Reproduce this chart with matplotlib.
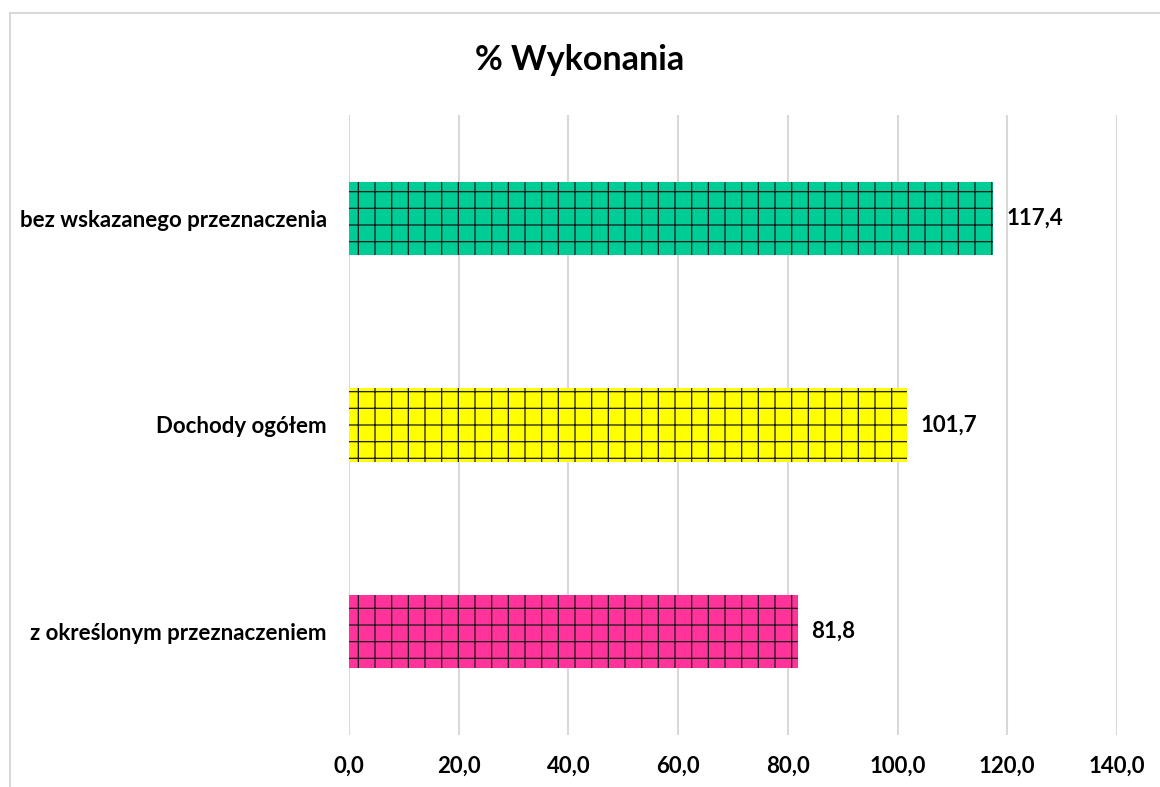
import matplotlib.pyplot as plt
from matplotlib.patches import Rectangle

plt.rcParams['font.family'] = ['Lato', 'DejaVu Sans']
plt.rcParams['hatch.linewidth'] = 0.9

categories = ['z określonym przeznaczeniem', 'Dochody ogółem', 'bez wskazanego przeznaczenia']
values = [81.8, 101.7, 117.4]
colors = ['#FF3399', '#FFFF00', '#00CC96']
xticks = [0, 20, 40, 60, 80, 100, 120, 140]

fig = plt.figure(figsize=(11.6, 7.87), dpi=100)
ax = fig.add_axes([0.3009, 0.0661, 0.662, 0.7878])

# chart border (cropped on right/bottom like the source)
fig.patches.append(Rectangle((10 / 1160, -0.1), 1.5, 1 - 13 / 787 + 0.1,
                             transform=fig.transFigure, fill=False,
                             edgecolor='#d9d9d9', linewidth=1.5, zorder=0))

bars = ax.barh(range(len(categories)), values, height=0.355, color=colors,
               edgecolor='#1a1a1a', linewidth=0, hatch='+', zorder=3)

for b, v in zip(bars, values):
    ax.text(v + 2.5, b.get_y() + b.get_height() / 2, f'{v:.1f}'.replace('.', ','),
            va='center', ha='left', fontsize=16, fontweight='bold', color='#000000')

ax.set_xlim(0, 140)
ax.set_ylim(-0.5, 2.5)
ax.set_xticks(xticks)
ax.set_xticklabels([f'{t:.1f}'.replace('.', ',') for t in xticks],
                   fontsize=16, fontweight='bold')
ax.set_yticks(range(len(categories)))
ax.set_yticklabels(categories, fontsize=16, fontweight='bold')
ax.tick_params(axis='x', length=0, pad=15)
ax.tick_params(axis='y', length=0, pad=16)
ax.grid(axis='x', color='#d9d9d9', linewidth=1.5, zorder=0)
ax.set_axisbelow(True)
for s in ax.spines.values():
    s.set_visible(False)

fig.text(0.5, 1 - 60 / 787, '% Wykonania', ha='center', va='center',
         fontsize=24.5, fontweight='bold')

fig.savefig('out.png', dpi=100)
